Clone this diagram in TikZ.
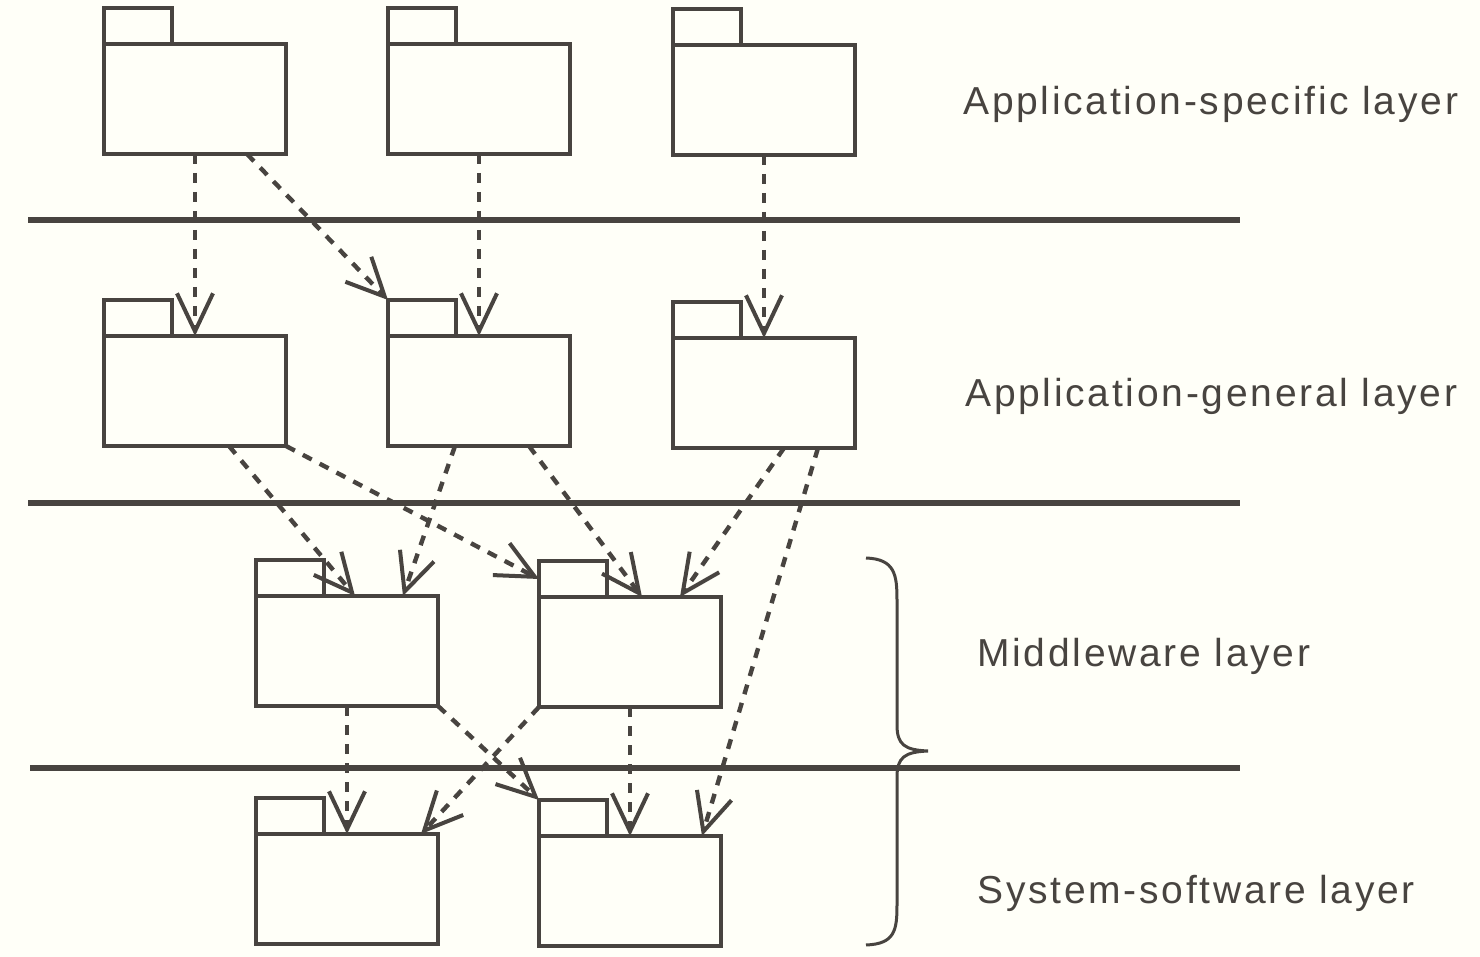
\documentclass[tikz,border=0pt]{standalone}
\usepackage{fontspec}
\setmainfont{Liberation Sans}[LetterSpace=7]
\usetikzlibrary{arrows.meta}
\definecolor{ink}{RGB}{72,68,64}
\definecolor{paper}{RGB}{255,255,248}
\begin{document}
\begin{tikzpicture}[x=0.5pt,y=-0.5pt]
\tikzstyle{package}=[draw=ink, line width=2pt, outer sep=0pt, inner sep=0pt, minimum width=91pt, minimum height=55pt]
\tikzstyle{tab}=[draw=ink, line width=2pt, outer sep=0pt, inner sep=0pt, minimum width=34pt, minimum height=18pt, anchor=south west]
\tikzstyle{dep}=[draw=ink, line width=2.2pt, dash pattern=on 5pt off 4.5pt, -{Straight Barb[length=19pt,width=18pt,line width=2pt]}]
\tikzstyle{divider}=[draw=ink, line width=3pt]
\tikzstyle{layername}=[text=ink, anchor=base west, inner sep=0pt, font=\fontsize{19.5}{23}\selectfont]
    \fill[paper] (0,0) rectangle (1480,957);

    \node[package] (as1) at (195,99) {};
    \node[package] (as2) at (479,99) {};
    \node[package] (as3) at (764,100) {};
    \node[package] (ag1) at (195,391) {};
    \node[package] (ag2) at (479,391) {};
    \node[package] (ag3) at (764,393) {};
    \node[package] (mw1) at (347,651) {};
    \node[package] (mw2) at (630,652) {};
    \node[package] (ss1) at (347,889) {};
    \node[package] (ss2) at (630,891) {};

    \node[tab] (as1t) at (as1.north west) {};
    \node[tab] (as2t) at (as2.north west) {};
    \node[tab] (as3t) at (as3.north west) {};
    \node[tab] (ag1t) at (ag1.north west) {};
    \node[tab] (ag2t) at (ag2.north west) {};
    \node[tab] (ag3t) at (ag3.north west) {};
    \node[tab] (mw1t) at (mw1.north west) {};
    \node[tab] (mw2t) at (mw2.north west) {};
    \node[tab] (ss1t) at (ss1.north west) {};
    \node[tab] (ss2t) at (ss2.north west) {};

    \draw[divider] (28,220) -- (1240,220);
    \draw[divider] (28,503) -- (1240,503);
    \draw[divider] (30,768) -- (1240,768);

    \draw[dep] (as1.south) -- (ag1.north);
    \draw[dep] ([xshift=26pt]as1.south) -- (ag2t.north west);
    \draw[dep] (as2.south) -- (ag2.north);
    \draw[dep] (as3.south) -- (ag3.north);

    \draw[dep] ([xshift=17pt]ag1.south) -- ([xshift=4pt]mw1.north);
    \draw[dep] (ag1.south east) -- (mw2t.west);
    \draw[dep] ([xshift=-12pt]ag2.south) -- ([xshift=28pt]mw1.north);
    \draw[dep] ([xshift=25pt]ag2.south) -- ([xshift=6pt]mw2.north);
    \draw[dep] ([xshift=10pt]ag3.south) -- ([xshift=25pt]mw2.north);
    \draw[dep] ([xshift=27pt]ag3.south) -- ([xshift=36pt]ss2.north);

    \draw[dep] (mw1.south) -- (ss1.north);
    \draw[dep] (mw1.south east) -- (ss2t.north west);
    \draw[dep] (mw2.south west) -- ([xshift=37pt]ss1.north);
    \draw[dep] (mw2.south) -- (ss2.north);

    \draw[ink, line width=1.5pt] (866,558) .. controls (895,559) and (897,575) .. (897,600) -- (897,725) .. controls (897,745) and (905,750) .. (928,751) .. controls (905,752) and (897,757) .. (897,777) -- (897,905) .. controls (897,930) and (895,944) .. (866,945);

    \node[layername] (aslabel) at (963,115) {Application-specific layer};
    \node[layername] (aglabel) at (965,407) {Application-general layer};
    \node[layername] (mwlabel) at (977,667) {Middleware layer};
    \node[layername] (sslabel) at (977,903) {System-software layer};
\end{tikzpicture}
\end{document}
